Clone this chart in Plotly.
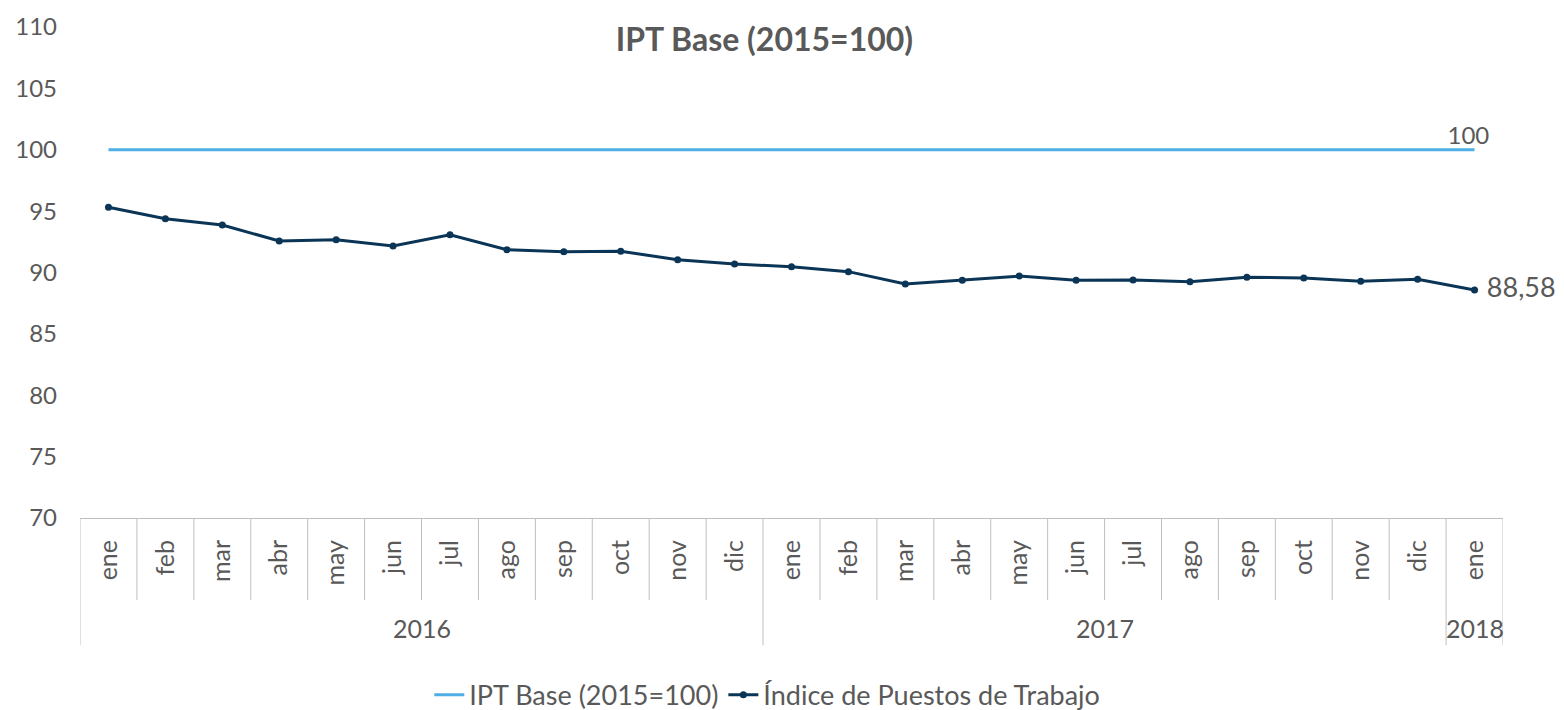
import plotly.graph_objects as go

years = ["2016"] * 12 + ["2017"] * 12 + ["2018"]
months = ["ene", "feb", "mar", "abr", "may", "jun", "jul", "ago", "sep", "oct", "nov", "dic"] * 2 + ["ene"]
base = [100] * 25
ipt = [95.31, 94.38, 93.87, 92.57, 92.67, 92.16, 93.08, 91.86, 91.70, 91.73, 91.04, 90.69,
       90.47, 90.07, 89.06, 89.36, 89.71, 89.36, 89.39, 89.25, 89.61, 89.55, 89.28, 89.45,
       88.58]
y_ticks = [70, 75, 80, 85, 90, 95, 100, 105, 110]

base_text = [""] * 24 + ["100\u00a0\u00a0"]
ipt_text = [""] * 24 + ["\u00a088,58"]

FONT = "Lato"
GREY = "#595959"
AXIS = "#BFBFBF"

pos = list(range(len(months)))

fig = go.Figure()
fig.add_trace(go.Scatter(
    x=pos, y=base, name="IPT Base (2015=100)",
    mode="lines+text", text=base_text, textposition="top center",
    textfont=dict(size=24, color=GREY, family=FONT),
    line=dict(color="#4FAEE3", width=3), cliponaxis=False,
))
fig.add_trace(go.Scatter(
    x=pos, y=ipt, name="Índice de Puestos de Trabajo",
    mode="lines+markers+text", text=ipt_text, textposition="middle right",
    textfont=dict(size=27, color=GREY, family=FONT),
    line=dict(color="#0B3556", width=3), marker=dict(size=7, color="#0B3556"),
    cliponaxis=False,
))

# category dividers (month level and year level)
shapes = []
for i in range(len(months) + 1):
    b = i - 0.5
    is_year_edge = (i == 0 or i == len(months) or years[i] != years[i - 1])
    shapes.append(dict(type="line", xref="x", yref="paper", x0=b, x1=b,
                       y0=0, y1=-0.259 if is_year_edge else -0.167,
                       line=dict(color=AXIS, width=1)))

annotations = []
groups = {}
for i, yv in enumerate(years):
    groups.setdefault(yv, []).append(i)
for yv, idx in groups.items():
    annotations.append(dict(x=(idx[0] + idx[-1]) / 2, y=-0.224, xref="x", yref="paper",
                            text=yv, showarrow=False, xanchor="center", yanchor="middle",
                            font=dict(size=25, color=GREY, family=FONT)))

fig.update_layout(
    width=1556, height=702,
    margin=dict(l=72, r=61, t=19, b=192),
    paper_bgcolor="white", plot_bgcolor="white",
    font=dict(family=FONT, color=GREY, size=22),
    title=dict(text="<b>IPT Base (2015=100)</b>", x=0.481, xanchor="center", xref="paper",
               y=0.954, yanchor="middle", font=dict(size=32, color=GREY, family=FONT)),
    showlegend=True,
    legend=dict(orientation="h", x=0.483, xanchor="center", yref="container",
                y=0.021, yanchor="middle", font=dict(size=27, color=GREY, family=FONT)),
    shapes=shapes, annotations=annotations,
)
fig.update_yaxes(range=[70, 110], tickvals=y_ticks, showgrid=False, zeroline=False,
                 showline=False, ticks="", tickfont=dict(size=24, color=GREY),
                 ticklabelstandoff=22, automargin=False)
fig.update_xaxes(range=[-0.5, len(months) - 0.5], tickvals=pos, ticktext=months,
                 showgrid=False, zeroline=False, showline=True, linecolor=AXIS, linewidth=1,
                 tickangle=-90, ticks="", ticklabelstandoff=11,
                 tickfont=dict(size=25, color=GREY), automargin=False)

fig.write_html("out.html")
